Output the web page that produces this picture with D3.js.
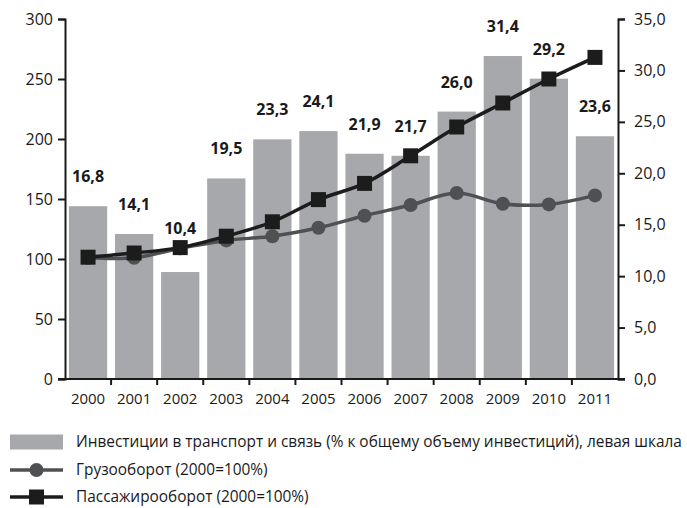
<!DOCTYPE html>
<html><head><meta charset="utf-8">
<script src="https://cdn.jsdelivr.net/npm/d3@7"></script>
<style>
body{margin:0;background:#fff;}
text{font-family:"Open Sans",sans-serif;fill:#1a1a1a;}
</style></head>
<body><svg id="c" width="687" height="508"></svg>
<script>
const years = ["2000","2001","2002","2003","2004","2005","2006","2007","2008","2009","2010","2011"];
const investShare = [16.8,14.1,10.4,19.5,23.3,24.1,21.9,21.7,26.0,31.4,29.2,23.6];
const freight = [101,101,109,115.5,119,126,136,145,155,146,145.5,153];
const passenger = [101.5,105,109.5,119,131,149.5,163,186,210,230,250,268];
const leftTicks = [0,50,100,150,200,250,300];
const rightTicks = [0,5,10,15,20,25,30,35];
const legendLabels = [
  "Инвестиции в транспорт и связь (% к общему объему инвестиций), левая шкала",
  "Грузооборот (2000=100%)",
  "Пассажирооборот (2000=100%)"
];

const svg = d3.select("#c");
const L = 65, R = 618, T = 19, B = 379;
const x = d3.scaleBand().domain(years).range([L, R]).paddingInner(0.17).paddingOuter(0.085);
const xt = d3.scaleBand().domain(years).range([L, R]);
const yL = d3.scaleLinear().domain([0,300]).range([B, T]);
const yR = d3.scaleLinear().domain([0,35]).range([B, T]);
const fmt = v => d3.format(".1f")(v).replace(".", ",");

const barColor = "#a7a8ab", freightColor = "#4f5052", passColor = "#1c1c1c";

// bars
svg.append("g").selectAll("rect").data(investShare).join("rect")
  .attr("x", (d,i) => x(years[i])).attr("width", x.bandwidth())
  .attr("y", d => yR(d)).attr("height", d => B - yR(d))
  .attr("fill", barColor);

const cx = i => xt(years[i]) + xt.bandwidth()/2;
const curve = d3.curveCatmullRom.alpha(0.5);

// freight line
svg.append("path").datum(freight)
  .attr("d", d3.line().x((d,i)=>cx(i)).y(d=>yL(d)).curve(curve))
  .attr("fill","none").attr("stroke", freightColor).attr("stroke-width", 3.5);
svg.append("g").selectAll("circle").data(freight).join("circle")
  .attr("cx",(d,i)=>cx(i)).attr("cy", d=>yL(d)).attr("r", 7).attr("fill", freightColor);

// passenger line
svg.append("path").datum(passenger)
  .attr("d", d3.line().x((d,i)=>cx(i)).y(d=>yL(d)).curve(curve))
  .attr("fill","none").attr("stroke", passColor).attr("stroke-width", 3.5);
const sq = 15;
svg.append("g").selectAll("rect").data(passenger).join("rect")
  .attr("x",(d,i)=>cx(i)-sq/2).attr("y", d=>yL(d)-sq/2).attr("width", sq).attr("height", sq)
  .attr("fill", passColor);

// value labels
svg.append("g").selectAll("text").data(investShare).join("text")
  .attr("x",(d,i)=>cx(i))
  .attr("y",(d,i)=>{
    let ly = yR(d) - 30;
    const py = yL(passenger[i]);
    if (Math.abs(ly - py) < 20) ly = py - sq/2 - 12;
    return ly + 6;
  })
  .attr("text-anchor","middle").attr("font-weight","bold").attr("font-size","16px")
  .text(d=>fmt(d));

// axes
const axL = svg.append("g").attr("transform",`translate(${L},0)`)
  .call(d3.axisLeft(yL).tickValues(leftTicks).tickSize(7).tickPadding(5).tickFormat(d3.format("d")));
const axR = svg.append("g").attr("transform",`translate(${R},0)`)
  .call(d3.axisRight(yR).tickValues(rightTicks).tickSize(7).tickPadding(9).tickFormat(fmt));
const axB = svg.append("g").attr("transform",`translate(0,${B})`)
  .call(d3.axisBottom(xt).tickSize(0).tickPadding(14));
// boundary ticks for x
svg.append("g").selectAll("line").data(years.slice(1)).join("line")
  .attr("x1", d=>xt(d)).attr("x2", d=>xt(d)).attr("y1", B).attr("y2", B+6)
  .attr("stroke", "#1a1a1a").attr("stroke-width", 2);
[axL, axR, axB].forEach(a=>{
  a.selectAll(".domain").attr("stroke","#1a1a1a").attr("stroke-width",2);
  a.selectAll(".tick line").attr("stroke","#1a1a1a").attr("stroke-width",2);
  a.selectAll("text").attr("font-size","16px").attr("font-family","'Open Sans',sans-serif").attr("fill","#1a1a1a");
});
axB.selectAll("text").attr("font-size","15px");
axB.select(".domain").attr("d", `M${L-7},0H${R+7}`);

// legend
const lg = svg.append("g");
const rows = [442, 470, 497];
lg.append("rect").attr("x",10).attr("y",rows[0]-7.5).attr("width",53).attr("height",15).attr("fill",barColor);
lg.append("line").attr("x1",10).attr("x2",63).attr("y1",rows[1]).attr("y2",rows[1]).attr("stroke",freightColor).attr("stroke-width",3.5);
lg.append("circle").attr("cx",36.5).attr("cy",rows[1]).attr("r",7).attr("fill",freightColor);
lg.append("line").attr("x1",10).attr("x2",63).attr("y1",rows[2]).attr("y2",rows[2]).attr("stroke",passColor).attr("stroke-width",3.5);
lg.append("rect").attr("x",36.5-7.5).attr("y",rows[2]-7.5).attr("width",15).attr("height",15).attr("fill",passColor);
lg.selectAll("text").data(legendLabels).join("text")
  .attr("x",76).attr("y",(d,i)=>rows[i]+5).attr("font-size","15.4px").text(d=>d);
</script></body></html>
